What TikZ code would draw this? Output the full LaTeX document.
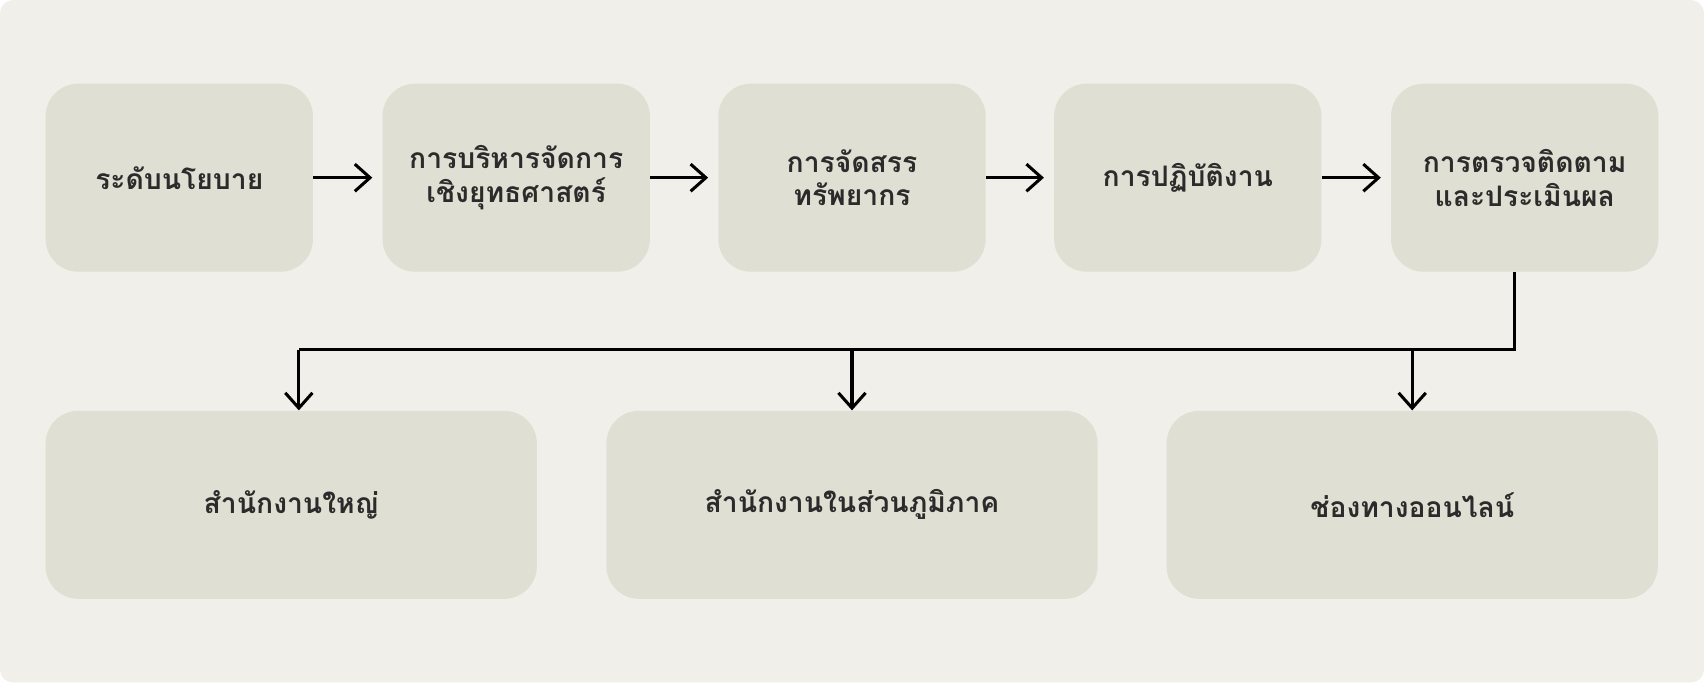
\documentclass[tikz,border=0pt]{standalone}
\usepackage{fontspec}
\newfontfamily\thaifont[Script=Thai]{Loma}
\usetikzlibrary{arrows.meta}
\definecolor{bgc}{HTML}{F0EFE9}
\definecolor{boxc}{HTML}{DFDFD3}
\definecolor{txtc}{HTML}{2B2B2B}
\tikzset{
  stagebox/.style={rectangle, rounded corners=15pt, fill=boxc, minimum width=123pt, minimum height=86.5pt, inner sep=0pt, align=center, font=\thaifont\bfseries\fontsize{13}{15.5}\selectfont, text=txtc},
  widebox/.style={stagebox, minimum width=226pt},
  flow/.style={line width=1.4pt, draw=black, -{Straight Barb[length=7pt,width=12.5pt,line width=1.4pt]}},
  link/.style={line width=1.4pt, draw=black}
}
\begin{document}
\begin{tikzpicture}[x=0.5pt,y=-0.5pt]
\useasboundingbox (0,0) rectangle (1568,628);
\fill[bgc, rounded corners=6pt] (0,0) rectangle (1568,628);
\node[stagebox] (a) at (165,163.5) {ระดับนโยบาย};
\node[stagebox] (b) at (475,163.5) {การบริหารจัดการ\\เชิงยุทธศาสตร์};
\node[stagebox] (c) at (784,163.5) {การจัดสรร\\ทรัพยากร};
\node[stagebox] (d) at (1093,163.5) {การปฏิบัติงาน};
\node[stagebox] (e) at (1403,163.5) {การตรวจติดตาม\\และประเมินผล};
\node[widebox] (A) at (268,464.5) {สำนักงานใหญ่};
\node[widebox] (B) at (784,464.5) {สำนักงานในส่วนภูมิภาค};
\node[widebox] (C) at (1299.5,464.5) {ช่องทางออนไลน์};
\draw[flow, shorten >=4.5pt] (a.east) -- (b.west);
\draw[flow, shorten >=4.5pt] (b.east) -- (c.west);
\draw[flow, shorten >=4.5pt] (c.east) -- (d.west);
\draw[flow, shorten >=4.5pt] (d.east) -- (e.west);
\coordinate (j1) at (1394,322);
\coordinate (jA) at (275,322);
\draw[link] (e.south -| j1) -- (j1) -- (jA);
\draw[flow] (jA) -- (A.north -| jA);
\draw[flow] (B.north |- jA) -- (B.north);
\draw[flow] (C.north |- jA) -- (C.north);
\end{tikzpicture}
\end{document}
